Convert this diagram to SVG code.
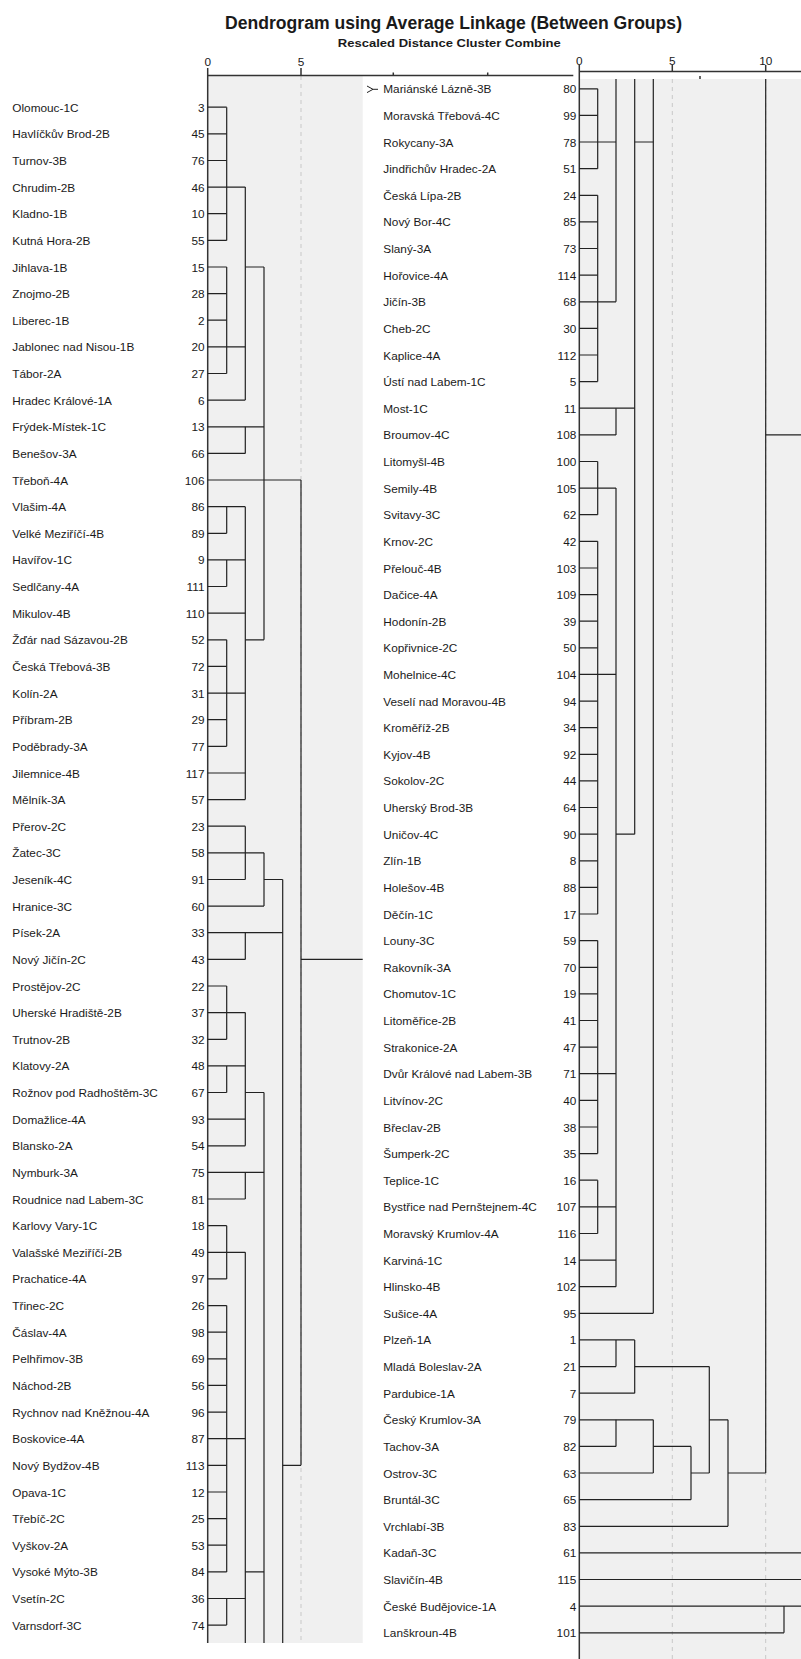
<svg xmlns="http://www.w3.org/2000/svg" width="801" height="1659" viewBox="0 0 801 1659">
<style>
text{font-family:'Liberation Sans',Arial,sans-serif;fill:#1a1a1a}
.lb{font-size:11.8px}
.nm{font-size:11.8px;text-anchor:end}
.ax{font-size:11.8px;text-anchor:middle}
.ln{fill:none;stroke:#222;stroke-width:1.2}
.dash{fill:none;stroke:#c8c8c8;stroke-width:1;stroke-dasharray:4 4}
.axis{fill:none;stroke:#333;stroke-width:1.5}
</style>
<rect x="0" y="0" width="801" height="1659" fill="#fff"/>
<g id="title">
<text x="453.5" y="29.3" font-size="18" font-weight="bold" text-anchor="middle" textLength="457" lengthAdjust="spacingAndGlyphs">Dendrogram using Average Linkage (Between Groups)</text>
<text x="449.3" y="46.7" font-size="10.5" font-weight="bold" text-anchor="middle" textLength="223" lengthAdjust="spacingAndGlyphs">Rescaled Distance Cluster Combine</text>
</g>
<g id="panels">
<rect x="207.7" y="76" width="155" height="1567" fill="#f0f0f0"/>
<rect x="579.3" y="79" width="221.7" height="1580" fill="#f0f0f0"/>
<path class="dash" d="M301 76V1643M672.3 79V1659M765.7 79V1659"/>
</g>
<g id="axes">
<path class="axis" d="M207.7 75.5H573.3M207.7 68V1643M301 68V75.5M393.3 72.5V75.5M487.7 72.5V75.5"/>
<path class="axis" d="M579.3 71.5H801M579.3 65V1659M672.3 65V71.5M765.7 65V71.5M700 76V79"/>
<text class="ax" x="207.7" y="66">0</text>
<text class="ax" x="301" y="66">5</text>
<text class="ax" x="579.3" y="65">0</text>
<text class="ax" x="672.3" y="65">5</text>
<text class="ax" x="765.7" y="65">10</text>
<path d="M367 86L373 89.3H378M367 92.6L373 89.3" fill="none" stroke="#222" stroke-width="1"/>
</g>
<g id="connectors">
<path class="ln" d="M207.7 107.2H226.7M207.7 133.8H226.7M207.7 160.5H226.7M207.7 187.1H245.3M207.7 213.7H226.7M207.7 240.4H226.7M207.7 267H226.7M245.3 267H264M207.7 293.6H226.7M207.7 320.2H226.7M207.7 346.9H245.3M207.7 373.5H226.7M207.7 400.1H245.3M207.7 426.8H264M207.7 453.4H245.3M207.7 480H301M207.7 506.7H245.3M207.7 533.3H226.7M207.7 559.9H245.3M207.7 586.5H226.7M207.7 613.2H245.3M207.7 639.8H226.7M245.3 639.8H264M207.7 666.4H226.7M207.7 693.1H245.3M207.7 719.7H226.7M207.7 746.3H226.7M207.7 773H245.3M207.7 799.6H245.3M207.7 826.2H245.3M207.7 852.8H264M207.7 879.5H245.3M264 879.5H282.7M207.7 906.1H264M207.7 932.7H282.7M207.7 959.4H245.3M301 959.4H362.7M207.7 986H226.7M207.7 1012.6H245.3M207.7 1039.3H226.7M207.7 1065.9H245.3M207.7 1092.5H226.7M245.3 1092.5H264M207.7 1119.1H245.3M207.7 1145.8H245.3M207.7 1172.4H264M207.7 1199H245.3M207.7 1225.7H226.7M207.7 1252.3H245.3M207.7 1278.9H226.7M207.7 1305.6H226.7M207.7 1332.2H226.7M207.7 1358.8H226.7M207.7 1385.4H226.7M207.7 1412.1H226.7M207.7 1438.7H245.3M207.7 1465.3H226.7M282.7 1465.3H301M207.7 1492H226.7M207.7 1518.6H226.7M207.7 1545.2H226.7M207.7 1571.9H226.7M245.3 1571.9H264M207.7 1598.5H245.3M207.7 1625.1H226.7"/>
<path class="ln" d="M226.7 107.2V240.4M226.7 267V373.5M226.7 506.7V533.3M226.7 559.9V586.5M226.7 639.8V746.3M226.7 986V1039.3M226.7 1065.9V1092.5M226.7 1225.7V1278.9M226.7 1305.6V1571.9M226.7 1598.5V1625.1M245.3 187.1V400.1M245.3 426.8V453.4M245.3 506.7V799.6M245.3 826.2V879.5M245.3 932.7V959.4M245.3 1012.6V1145.8M245.3 1172.4V1199M245.3 1252.3V1643M264 267V639.8M264 852.8V906.1M264 1092.5V1643M282.7 879.5V1643M301 480V1465.3"/>
<path class="ln" d="M579.3 88.8H597.7M579.3 115.4H597.7M579.3 142H616M634.7 142H653.3M579.3 168.7H597.7M579.3 195.3H597.7M579.3 221.9H597.7M579.3 248.5H597.7M579.3 275.1H597.7M579.3 301.8H616M579.3 328.4H597.7M579.3 355H597.7M579.3 381.6H597.7M579.3 408.2H634.7M579.3 434.9H616M765.7 434.9H801M579.3 461.5H597.7M579.3 488.1H616M579.3 514.7H597.7M579.3 541.3H597.7M579.3 568H597.7M579.3 594.6H597.7M579.3 621.2H597.7M579.3 647.8H597.7M579.3 674.4H616M579.3 701.1H597.7M579.3 727.7H597.7M579.3 754.3H597.7M579.3 780.9H597.7M579.3 807.5H597.7M579.3 834.2H597.7M616 834.2H634.7M579.3 860.8H597.7M579.3 887.4H597.7M579.3 914H597.7M579.3 940.6H597.7M579.3 967.3H597.7M579.3 993.9H597.7M579.3 1020.5H597.7M579.3 1047.1H597.7M579.3 1073.7H616M579.3 1100.4H597.7M579.3 1127H597.7M579.3 1153.6H597.7M579.3 1180.2H597.7M579.3 1206.8H616M579.3 1233.5H597.7M579.3 1260.1H616M579.3 1286.7H616M579.3 1313.3H653.3M579.3 1339.9H634.7M579.3 1366.6H616M634.7 1366.6H709.3M579.3 1393.2H634.7M579.3 1419.8H653.3M709.3 1419.8H728M579.3 1446.4H616M653.3 1446.4H691M579.3 1473H653.3M691 1473H709.3M728 1473H765.7M579.3 1499.7H691M579.3 1526.3H728M579.3 1552.9H801M579.3 1579.5H801M579.3 1606.1H801M579.3 1632.8H784"/>
<path class="ln" d="M597.7 88.8V168.7M597.7 195.3V381.6M597.7 461.5V514.7M597.7 541.3V914M597.7 940.6V1153.6M597.7 1180.2V1233.5M616 79V301.8M616 408.2V434.9M616 488.1V1286.7M616 1339.9V1366.6M616 1419.8V1446.4M634.7 79V834.2M634.7 1339.9V1393.2M653.3 79V1313.3M653.3 1419.8V1473M691 1446.4V1499.7M709.3 1366.6V1473M728 1419.8V1526.3M765.7 79V1473M784 1606.1V1632.8"/>
</g>
<g id="L0"><text class="lb" x="12.3" y="111.7">Olomouc-1C</text><text class="nm" x="204.5" y="111.7">3</text></g>
<g id="L1"><text class="lb" x="12.3" y="138.3">Havlíčkův Brod-2B</text><text class="nm" x="204.5" y="138.3">45</text></g>
<g id="L2"><text class="lb" x="12.3" y="165">Turnov-3B</text><text class="nm" x="204.5" y="165">76</text></g>
<g id="L3"><text class="lb" x="12.3" y="191.6">Chrudim-2B</text><text class="nm" x="204.5" y="191.6">46</text></g>
<g id="L4"><text class="lb" x="12.3" y="218.2">Kladno-1B</text><text class="nm" x="204.5" y="218.2">10</text></g>
<g id="L5"><text class="lb" x="12.3" y="244.9">Kutná Hora-2B</text><text class="nm" x="204.5" y="244.9">55</text></g>
<g id="L6"><text class="lb" x="12.3" y="271.5">Jihlava-1B</text><text class="nm" x="204.5" y="271.5">15</text></g>
<g id="L7"><text class="lb" x="12.3" y="298.1">Znojmo-2B</text><text class="nm" x="204.5" y="298.1">28</text></g>
<g id="L8"><text class="lb" x="12.3" y="324.7">Liberec-1B</text><text class="nm" x="204.5" y="324.7">2</text></g>
<g id="L9"><text class="lb" x="12.3" y="351.4">Jablonec nad Nisou-1B</text><text class="nm" x="204.5" y="351.4">20</text></g>
<g id="L10"><text class="lb" x="12.3" y="378">Tábor-2A</text><text class="nm" x="204.5" y="378">27</text></g>
<g id="L11"><text class="lb" x="12.3" y="404.6">Hradec Králové-1A</text><text class="nm" x="204.5" y="404.6">6</text></g>
<g id="L12"><text class="lb" x="12.3" y="431.3">Frýdek-Místek-1C</text><text class="nm" x="204.5" y="431.3">13</text></g>
<g id="L13"><text class="lb" x="12.3" y="457.9">Benešov-3A</text><text class="nm" x="204.5" y="457.9">66</text></g>
<g id="L14"><text class="lb" x="12.3" y="484.5">Třeboň-4A</text><text class="nm" x="204.5" y="484.5">106</text></g>
<g id="L15"><text class="lb" x="12.3" y="511.2">Vlašim-4A</text><text class="nm" x="204.5" y="511.2">86</text></g>
<g id="L16"><text class="lb" x="12.3" y="537.8">Velké Meziříčí-4B</text><text class="nm" x="204.5" y="537.8">89</text></g>
<g id="L17"><text class="lb" x="12.3" y="564.4">Havířov-1C</text><text class="nm" x="204.5" y="564.4">9</text></g>
<g id="L18"><text class="lb" x="12.3" y="591">Sedlčany-4A</text><text class="nm" x="204.5" y="591">111</text></g>
<g id="L19"><text class="lb" x="12.3" y="617.7">Mikulov-4B</text><text class="nm" x="204.5" y="617.7">110</text></g>
<g id="L20"><text class="lb" x="12.3" y="644.3">Žďár nad Sázavou-2B</text><text class="nm" x="204.5" y="644.3">52</text></g>
<g id="L21"><text class="lb" x="12.3" y="670.9">Česká Třebová-3B</text><text class="nm" x="204.5" y="670.9">72</text></g>
<g id="L22"><text class="lb" x="12.3" y="697.6">Kolín-2A</text><text class="nm" x="204.5" y="697.6">31</text></g>
<g id="L23"><text class="lb" x="12.3" y="724.2">Příbram-2B</text><text class="nm" x="204.5" y="724.2">29</text></g>
<g id="L24"><text class="lb" x="12.3" y="750.8">Poděbrady-3A</text><text class="nm" x="204.5" y="750.8">77</text></g>
<g id="L25"><text class="lb" x="12.3" y="777.5">Jilemnice-4B</text><text class="nm" x="204.5" y="777.5">117</text></g>
<g id="L26"><text class="lb" x="12.3" y="804.1">Mělník-3A</text><text class="nm" x="204.5" y="804.1">57</text></g>
<g id="L27"><text class="lb" x="12.3" y="830.7">Přerov-2C</text><text class="nm" x="204.5" y="830.7">23</text></g>
<g id="L28"><text class="lb" x="12.3" y="857.3">Žatec-3C</text><text class="nm" x="204.5" y="857.3">58</text></g>
<g id="L29"><text class="lb" x="12.3" y="884">Jeseník-4C</text><text class="nm" x="204.5" y="884">91</text></g>
<g id="L30"><text class="lb" x="12.3" y="910.6">Hranice-3C</text><text class="nm" x="204.5" y="910.6">60</text></g>
<g id="L31"><text class="lb" x="12.3" y="937.2">Písek-2A</text><text class="nm" x="204.5" y="937.2">33</text></g>
<g id="L32"><text class="lb" x="12.3" y="963.9">Nový Jičín-2C</text><text class="nm" x="204.5" y="963.9">43</text></g>
<g id="L33"><text class="lb" x="12.3" y="990.5">Prostějov-2C</text><text class="nm" x="204.5" y="990.5">22</text></g>
<g id="L34"><text class="lb" x="12.3" y="1017.1">Uherské Hradiště-2B</text><text class="nm" x="204.5" y="1017.1">37</text></g>
<g id="L35"><text class="lb" x="12.3" y="1043.8">Trutnov-2B</text><text class="nm" x="204.5" y="1043.8">32</text></g>
<g id="L36"><text class="lb" x="12.3" y="1070.4">Klatovy-2A</text><text class="nm" x="204.5" y="1070.4">48</text></g>
<g id="L37"><text class="lb" x="12.3" y="1097">Rožnov pod Radhoštěm-3C</text><text class="nm" x="204.5" y="1097">67</text></g>
<g id="L38"><text class="lb" x="12.3" y="1123.6">Domažlice-4A</text><text class="nm" x="204.5" y="1123.6">93</text></g>
<g id="L39"><text class="lb" x="12.3" y="1150.3">Blansko-2A</text><text class="nm" x="204.5" y="1150.3">54</text></g>
<g id="L40"><text class="lb" x="12.3" y="1176.9">Nymburk-3A</text><text class="nm" x="204.5" y="1176.9">75</text></g>
<g id="L41"><text class="lb" x="12.3" y="1203.5">Roudnice nad Labem-3C</text><text class="nm" x="204.5" y="1203.5">81</text></g>
<g id="L42"><text class="lb" x="12.3" y="1230.2">Karlovy Vary-1C</text><text class="nm" x="204.5" y="1230.2">18</text></g>
<g id="L43"><text class="lb" x="12.3" y="1256.8">Valašské Meziříčí-2B</text><text class="nm" x="204.5" y="1256.8">49</text></g>
<g id="L44"><text class="lb" x="12.3" y="1283.4">Prachatice-4A</text><text class="nm" x="204.5" y="1283.4">97</text></g>
<g id="L45"><text class="lb" x="12.3" y="1310.1">Třinec-2C</text><text class="nm" x="204.5" y="1310.1">26</text></g>
<g id="L46"><text class="lb" x="12.3" y="1336.7">Čáslav-4A</text><text class="nm" x="204.5" y="1336.7">98</text></g>
<g id="L47"><text class="lb" x="12.3" y="1363.3">Pelhřimov-3B</text><text class="nm" x="204.5" y="1363.3">69</text></g>
<g id="L48"><text class="lb" x="12.3" y="1389.9">Náchod-2B</text><text class="nm" x="204.5" y="1389.9">56</text></g>
<g id="L49"><text class="lb" x="12.3" y="1416.6">Rychnov nad Kněžnou-4A</text><text class="nm" x="204.5" y="1416.6">96</text></g>
<g id="L50"><text class="lb" x="12.3" y="1443.2">Boskovice-4A</text><text class="nm" x="204.5" y="1443.2">87</text></g>
<g id="L51"><text class="lb" x="12.3" y="1469.8">Nový Bydžov-4B</text><text class="nm" x="204.5" y="1469.8">113</text></g>
<g id="L52"><text class="lb" x="12.3" y="1496.5">Opava-1C</text><text class="nm" x="204.5" y="1496.5">12</text></g>
<g id="L53"><text class="lb" x="12.3" y="1523.1">Třebíč-2C</text><text class="nm" x="204.5" y="1523.1">25</text></g>
<g id="L54"><text class="lb" x="12.3" y="1549.7">Vyškov-2A</text><text class="nm" x="204.5" y="1549.7">53</text></g>
<g id="L55"><text class="lb" x="12.3" y="1576.4">Vysoké Mýto-3B</text><text class="nm" x="204.5" y="1576.4">84</text></g>
<g id="L56"><text class="lb" x="12.3" y="1603">Vsetín-2C</text><text class="nm" x="204.5" y="1603">36</text></g>
<g id="L57"><text class="lb" x="12.3" y="1629.6">Varnsdorf-3C</text><text class="nm" x="204.5" y="1629.6">74</text></g>
<g id="R0"><text class="lb" x="383.3" y="93.3">Mariánské Lázně-3B</text><text class="nm" x="576.3" y="93.3">80</text></g>
<g id="R1"><text class="lb" x="383.3" y="119.9">Moravská Třebová-4C</text><text class="nm" x="576.3" y="119.9">99</text></g>
<g id="R2"><text class="lb" x="383.3" y="146.5">Rokycany-3A</text><text class="nm" x="576.3" y="146.5">78</text></g>
<g id="R3"><text class="lb" x="383.3" y="173.2">Jindřichův Hradec-2A</text><text class="nm" x="576.3" y="173.2">51</text></g>
<g id="R4"><text class="lb" x="383.3" y="199.8">Česká Lípa-2B</text><text class="nm" x="576.3" y="199.8">24</text></g>
<g id="R5"><text class="lb" x="383.3" y="226.4">Nový Bor-4C</text><text class="nm" x="576.3" y="226.4">85</text></g>
<g id="R6"><text class="lb" x="383.3" y="253">Slaný-3A</text><text class="nm" x="576.3" y="253">73</text></g>
<g id="R7"><text class="lb" x="383.3" y="279.6">Hořovice-4A</text><text class="nm" x="576.3" y="279.6">114</text></g>
<g id="R8"><text class="lb" x="383.3" y="306.3">Jičín-3B</text><text class="nm" x="576.3" y="306.3">68</text></g>
<g id="R9"><text class="lb" x="383.3" y="332.9">Cheb-2C</text><text class="nm" x="576.3" y="332.9">30</text></g>
<g id="R10"><text class="lb" x="383.3" y="359.5">Kaplice-4A</text><text class="nm" x="576.3" y="359.5">112</text></g>
<g id="R11"><text class="lb" x="383.3" y="386.1">Ústí nad Labem-1C</text><text class="nm" x="576.3" y="386.1">5</text></g>
<g id="R12"><text class="lb" x="383.3" y="412.7">Most-1C</text><text class="nm" x="576.3" y="412.7">11</text></g>
<g id="R13"><text class="lb" x="383.3" y="439.4">Broumov-4C</text><text class="nm" x="576.3" y="439.4">108</text></g>
<g id="R14"><text class="lb" x="383.3" y="466">Litomyšl-4B</text><text class="nm" x="576.3" y="466">100</text></g>
<g id="R15"><text class="lb" x="383.3" y="492.6">Semily-4B</text><text class="nm" x="576.3" y="492.6">105</text></g>
<g id="R16"><text class="lb" x="383.3" y="519.2">Svitavy-3C</text><text class="nm" x="576.3" y="519.2">62</text></g>
<g id="R17"><text class="lb" x="383.3" y="545.8">Krnov-2C</text><text class="nm" x="576.3" y="545.8">42</text></g>
<g id="R18"><text class="lb" x="383.3" y="572.5">Přelouč-4B</text><text class="nm" x="576.3" y="572.5">103</text></g>
<g id="R19"><text class="lb" x="383.3" y="599.1">Dačice-4A</text><text class="nm" x="576.3" y="599.1">109</text></g>
<g id="R20"><text class="lb" x="383.3" y="625.7">Hodonín-2B</text><text class="nm" x="576.3" y="625.7">39</text></g>
<g id="R21"><text class="lb" x="383.3" y="652.3">Kopřivnice-2C</text><text class="nm" x="576.3" y="652.3">50</text></g>
<g id="R22"><text class="lb" x="383.3" y="678.9">Mohelnice-4C</text><text class="nm" x="576.3" y="678.9">104</text></g>
<g id="R23"><text class="lb" x="383.3" y="705.6">Veselí nad Moravou-4B</text><text class="nm" x="576.3" y="705.6">94</text></g>
<g id="R24"><text class="lb" x="383.3" y="732.2">Kroměříž-2B</text><text class="nm" x="576.3" y="732.2">34</text></g>
<g id="R25"><text class="lb" x="383.3" y="758.8">Kyjov-4B</text><text class="nm" x="576.3" y="758.8">92</text></g>
<g id="R26"><text class="lb" x="383.3" y="785.4">Sokolov-2C</text><text class="nm" x="576.3" y="785.4">44</text></g>
<g id="R27"><text class="lb" x="383.3" y="812">Uherský Brod-3B</text><text class="nm" x="576.3" y="812">64</text></g>
<g id="R28"><text class="lb" x="383.3" y="838.7">Uničov-4C</text><text class="nm" x="576.3" y="838.7">90</text></g>
<g id="R29"><text class="lb" x="383.3" y="865.3">Zlín-1B</text><text class="nm" x="576.3" y="865.3">8</text></g>
<g id="R30"><text class="lb" x="383.3" y="891.9">Holešov-4B</text><text class="nm" x="576.3" y="891.9">88</text></g>
<g id="R31"><text class="lb" x="383.3" y="918.5">Děčín-1C</text><text class="nm" x="576.3" y="918.5">17</text></g>
<g id="R32"><text class="lb" x="383.3" y="945.1">Louny-3C</text><text class="nm" x="576.3" y="945.1">59</text></g>
<g id="R33"><text class="lb" x="383.3" y="971.8">Rakovník-3A</text><text class="nm" x="576.3" y="971.8">70</text></g>
<g id="R34"><text class="lb" x="383.3" y="998.4">Chomutov-1C</text><text class="nm" x="576.3" y="998.4">19</text></g>
<g id="R35"><text class="lb" x="383.3" y="1025">Litoměřice-2B</text><text class="nm" x="576.3" y="1025">41</text></g>
<g id="R36"><text class="lb" x="383.3" y="1051.6">Strakonice-2A</text><text class="nm" x="576.3" y="1051.6">47</text></g>
<g id="R37"><text class="lb" x="383.3" y="1078.2">Dvůr Králové nad Labem-3B</text><text class="nm" x="576.3" y="1078.2">71</text></g>
<g id="R38"><text class="lb" x="383.3" y="1104.9">Litvínov-2C</text><text class="nm" x="576.3" y="1104.9">40</text></g>
<g id="R39"><text class="lb" x="383.3" y="1131.5">Břeclav-2B</text><text class="nm" x="576.3" y="1131.5">38</text></g>
<g id="R40"><text class="lb" x="383.3" y="1158.1">Šumperk-2C</text><text class="nm" x="576.3" y="1158.1">35</text></g>
<g id="R41"><text class="lb" x="383.3" y="1184.7">Teplice-1C</text><text class="nm" x="576.3" y="1184.7">16</text></g>
<g id="R42"><text class="lb" x="383.3" y="1211.3">Bystřice nad Pernštejnem-4C</text><text class="nm" x="576.3" y="1211.3">107</text></g>
<g id="R43"><text class="lb" x="383.3" y="1238">Moravský Krumlov-4A</text><text class="nm" x="576.3" y="1238">116</text></g>
<g id="R44"><text class="lb" x="383.3" y="1264.6">Karviná-1C</text><text class="nm" x="576.3" y="1264.6">14</text></g>
<g id="R45"><text class="lb" x="383.3" y="1291.2">Hlinsko-4B</text><text class="nm" x="576.3" y="1291.2">102</text></g>
<g id="R46"><text class="lb" x="383.3" y="1317.8">Sušice-4A</text><text class="nm" x="576.3" y="1317.8">95</text></g>
<g id="R47"><text class="lb" x="383.3" y="1344.4">Plzeň-1A</text><text class="nm" x="576.3" y="1344.4">1</text></g>
<g id="R48"><text class="lb" x="383.3" y="1371.1">Mladá Boleslav-2A</text><text class="nm" x="576.3" y="1371.1">21</text></g>
<g id="R49"><text class="lb" x="383.3" y="1397.7">Pardubice-1A</text><text class="nm" x="576.3" y="1397.7">7</text></g>
<g id="R50"><text class="lb" x="383.3" y="1424.3">Český Krumlov-3A</text><text class="nm" x="576.3" y="1424.3">79</text></g>
<g id="R51"><text class="lb" x="383.3" y="1450.9">Tachov-3A</text><text class="nm" x="576.3" y="1450.9">82</text></g>
<g id="R52"><text class="lb" x="383.3" y="1477.5">Ostrov-3C</text><text class="nm" x="576.3" y="1477.5">63</text></g>
<g id="R53"><text class="lb" x="383.3" y="1504.2">Bruntál-3C</text><text class="nm" x="576.3" y="1504.2">65</text></g>
<g id="R54"><text class="lb" x="383.3" y="1530.8">Vrchlabí-3B</text><text class="nm" x="576.3" y="1530.8">83</text></g>
<g id="R55"><text class="lb" x="383.3" y="1557.4">Kadaň-3C</text><text class="nm" x="576.3" y="1557.4">61</text></g>
<g id="R56"><text class="lb" x="383.3" y="1584">Slavičín-4B</text><text class="nm" x="576.3" y="1584">115</text></g>
<g id="R57"><text class="lb" x="383.3" y="1610.6">České Budějovice-1A</text><text class="nm" x="576.3" y="1610.6">4</text></g>
<g id="R58"><text class="lb" x="383.3" y="1637.3">Lanškroun-4B</text><text class="nm" x="576.3" y="1637.3">101</text></g>
</svg>
